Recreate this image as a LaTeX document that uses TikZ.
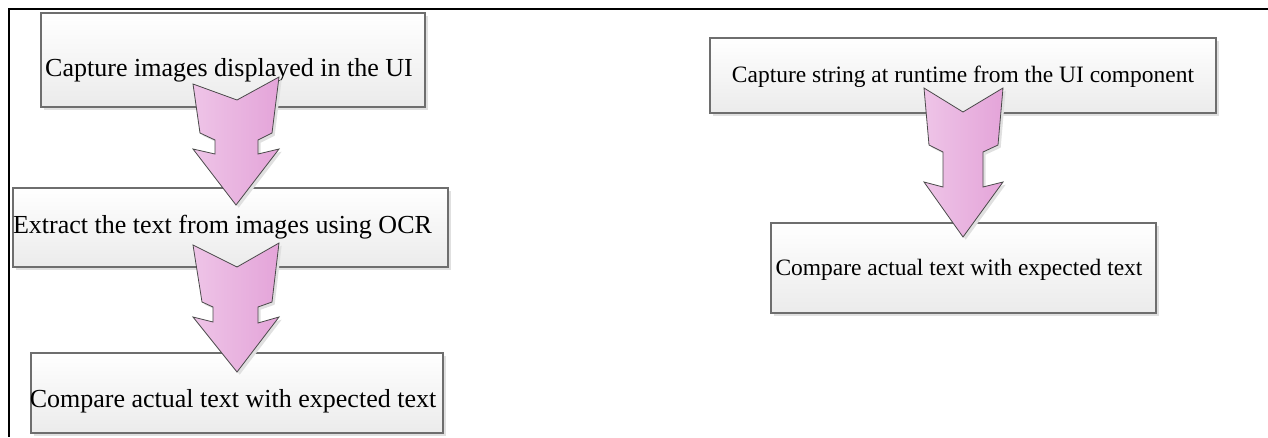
\documentclass[tikz,border=0pt]{standalone}
\usepackage{fontspec}
\setmainfont{Liberation Serif}
\usetikzlibrary{shadows}

\definecolor{boxedge}{HTML}{6E6E6E}
\definecolor{boxbottom}{HTML}{EBEBEB}
\definecolor{pinkleft}{HTML}{EEC4E7}
\definecolor{pinkright}{HTML}{E4A4D9}
\definecolor{arrowedge}{HTML}{4A4A4A}
\definecolor{shade}{HTML}{E0E0E0}

\begin{document}
\begin{tikzpicture}[x=0.75pt,y=-0.75pt,
  stepbox/.style={rectangle, draw=boxedge, line width=0.8pt,
    top color=white, bottom color=boxbottom,
    inner sep=0pt, outer sep=0pt,
    drop shadow={shadow xshift=2.2pt, shadow yshift=-2.2pt, fill=shade, opacity=1}},
  steptext/.style={anchor=base, inner sep=0pt,
    font=\fontsize{19.5pt}{23pt}\selectfont},
  smalltext/.style={steptext, font=\fontsize{17.6pt}{21pt}\selectfont},
  flowarrow/.style={draw=arrowedge, line width=0.6pt, line join=miter,
    left color=pinkleft, right color=pinkright,
    drop shadow={shadow xshift=2pt, shadow yshift=-2pt, fill=shade, opacity=1}},
  frameline/.style={line width=1.1pt, draw=black}]

\useasboundingbox (0,0) rectangle (1268,437);

% page frame
\coordinate (fr) at (1268,9);
\coordinate (fc) at (9,9);
\coordinate (fb) at (9,437);
\draw[frameline] (fr) -- (fc) -- (fb);

% left flow: boxes
\node[stepbox, minimum width=288pt, minimum height=70.5pt] (b1) at (233,60) {};
\node[steptext] (t1) at (229,76) {Capture images displayed in the UI};

\node[stepbox, minimum width=326.25pt, minimum height=59.25pt] (b2) at (230.5,227.5) {};
\node[steptext] (t2) at (222.5,233) {Extract the text from images using OCR};

\node[stepbox, minimum width=309pt, minimum height=60pt] (b3) at (237,393) {};
\node[steptext] (t3) at (233,407) {Compare actual text with expected text};

% right flow: boxes
\node[stepbox, minimum width=379.5pt, minimum height=56.25pt] (r1) at (963,75.5) {};
\node[smalltext] (s1) at (963,82) {Capture string at runtime from the UI component};

\node[stepbox, minimum width=288.75pt, minimum height=67.5pt] (r2) at (963.5,268) {};
\node[smalltext] (s2) at (959,275) {Compare actual text with expected text};

% block arrows between steps
\path[flowarrow] (193,84) -- (237,100) -- (279,77) -- (272,133) -- (258,140)
  -- (258,154) -- (279,149) -- (236,205) -- (193,149) -- (215,154)
  -- (215,140) -- (200,133) -- cycle;

\path[flowarrow] (193,245) -- (237,267) -- (279,243) -- (272,302) -- (258,307)
  -- (258,323) -- (279,317) -- (237,372) -- (193,317) -- (213,322)
  -- (213,307) -- (202,302) -- cycle;

\path[flowarrow] (924,88) -- (963,112) -- (1003,88) -- (998,145) -- (983,152)
  -- (983,187) -- (1003,182) -- (963,237) -- (924,182) -- (943,187)
  -- (943,152) -- (929,145) -- cycle;

\end{tikzpicture}
\end{document}
